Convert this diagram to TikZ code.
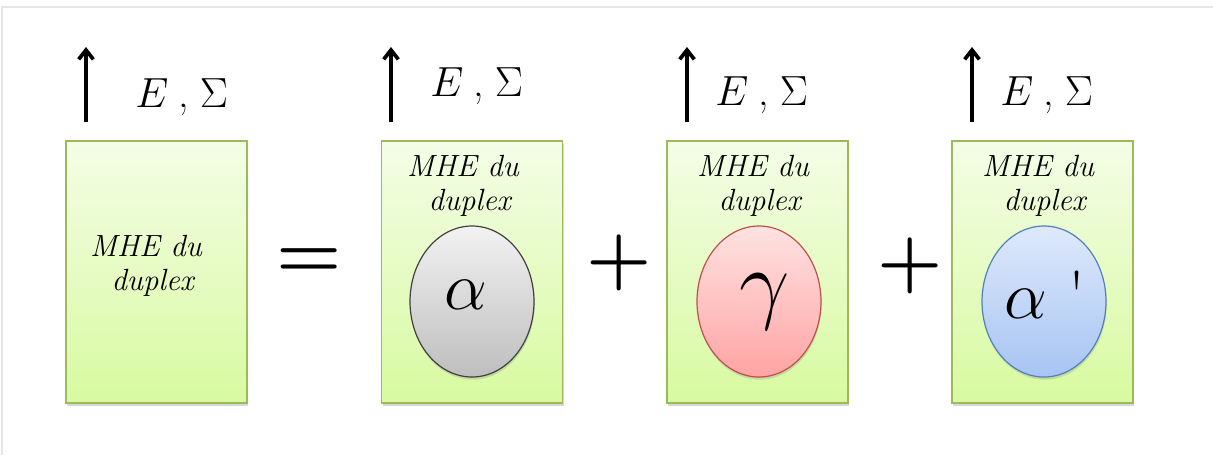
\documentclass[tikz,border=0pt]{standalone}
\usetikzlibrary{arrows.meta,positioning,shapes.geometric,shadows}
\definecolor{vertbord}{RGB}{155,187,89}
\definecolor{verthaut}{RGB}{244,253,231}
\definecolor{vertbas}{RGB}{216,250,160}
\definecolor{grisbord}{RGB}{64,64,64}
\definecolor{grishaut}{RGB}{242,242,242}
\definecolor{grisbas}{RGB}{190,190,190}
\definecolor{rougebord}{RGB}{192,80,77}
\definecolor{rougehaut}{RGB}{255,226,226}
\definecolor{rougebas}{RGB}{255,164,164}
\definecolor{bleubord}{RGB}{79,129,189}
\definecolor{bleuhaut}{RGB}{222,233,251}
\definecolor{bleubas}{RGB}{167,196,243}
\newcommand{\grand}[2]{\scalebox{#1}{\Huge #2}}

\begin{document}
\begin{tikzpicture}[x=0.75pt, y=-0.75pt,
  boite/.style={draw=vertbord, line width=1.4pt, top color=verthaut, bottom color=vertbas,
    minimum width=135.75pt, minimum height=196.5pt, inner sep=0pt,
    drop shadow={opacity=0.3, shadow xshift=1pt, shadow yshift=-2.5pt}},
  phase/.style={ellipse, line width=0.9pt, minimum width=93pt, minimum height=113.25pt, inner sep=0pt,
    drop shadow={opacity=0.25, shadow xshift=0.5pt, shadow yshift=-2pt}},
  texte/.style={font=\fontsize{23}{25.5}\selectfont\itshape, align=left, anchor=north, inner sep=0pt},
  lettre/.style={inner sep=0pt},
  grandeur/.style={anchor=base west, inner sep=0pt},
  signe/.style={inner sep=0pt, font=\fontsize{56}{56}\selectfont\bfseries},
  fleche/.style={-{Straight Barb[length=7pt,width=11pt]}, line width=2.8pt}]
  \useasboundingbox (0,0) rectangle (1213,455);
  \fill[white] (0,0) rectangle (1213,455);
  % cadre de la capture
  \draw[black!10, line width=0.8pt] (2,455) -- (2,7) -- (1213,7);
  % Boites
  \node[boite] (box1) at (156.5,272) {};
  \node[boite] (box2) at (472,272) {};
  \node[boite] (box3) at (757.5,272) {};
  \node[boite] (box4) at (1042.5,272) {};
  % Textes des boites
  \node[texte] (t1) at (146,235) {MHE du\\\hspace*{0.7em}duplex};
  \node[texte] (t2) at (463,155) {MHE du\\\hspace*{0.7em}duplex};
  \node[texte] (t3) at (753,155) {MHE du\\\hspace*{0.7em}duplex};
  \node[texte] (t4) at (1038,155) {MHE du\\\hspace*{0.7em}duplex};
  % Phases
  \node[phase, draw=grisbord, top color=grishaut, bottom color=grisbas] (alpha) at (472,301.5) {};
  \node[phase, draw=rougebord, top color=rougehaut, bottom color=rougebas] (gamma) at (759,301.5) {};
  \node[phase, draw=bleubord, top color=bleuhaut, bottom color=bleubas] (alphap) at (1044,301.5) {};
  \node[lettre] (la) at (466,295) {\grand{2.05}{$\alpha$}};
  \node[lettre] (lg) at (765,302) {\grand{2.7}{$\gamma$}};
  \node[lettre, anchor=base] (lap) at (1045,318)
    {\grand{2.05}{$\alpha$\hspace{0.3em}\textquotesingle}};
  % Signes
  \node[signe] (egal) at (309.5,263) {=};
  \node[signe] (plus1) at (619.5,263) {+};
  \node[signe] (plus2) at (910,266) {+};
  % Fleches et grandeurs
  \foreach \i/\x/\xe/\ye in {1/86/135/107, 2/391/430/96, 3/687/715/105, 4/972/1000/105} {
    \coordinate (bas\i) at (\x,122);
    \coordinate (haut\i) at (\x,47);
    \draw[fleche] (bas\i) -- (haut\i);
    \node[grandeur] (es\i) at (\xe,\ye) {\grand{1.27}{$E$\hspace{0.25em},\hspace{0.25em}$\Sigma$}};
  }
\end{tikzpicture}
\end{document}
